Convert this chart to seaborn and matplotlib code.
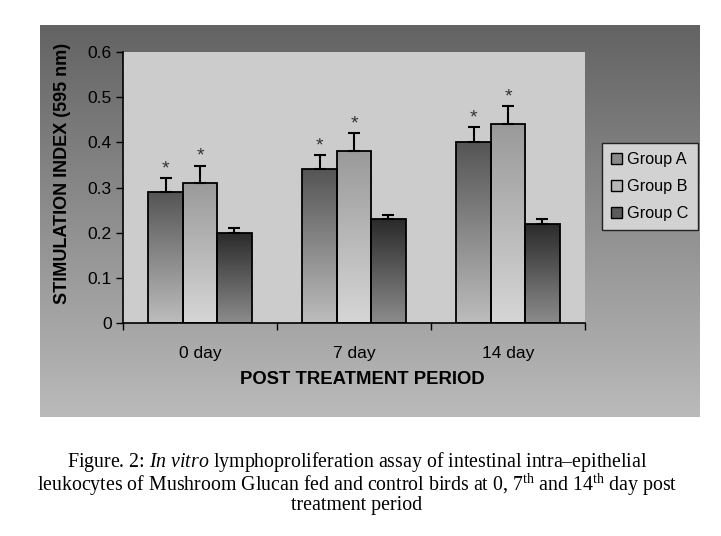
import numpy as np
import pandas as pd
import matplotlib
matplotlib.use("Agg")
import matplotlib.pyplot as plt
import seaborn as sns
from matplotlib.colors import LinearSegmentedColormap
from matplotlib.patches import Patch

# ---- data ----
days = ["0 day", "7 day", "14 day"]
groups = ["Group A", "Group B", "Group C"]
group_a = [0.29, 0.34, 0.40]
group_b = [0.31, 0.38, 0.44]
group_c = [0.20, 0.23, 0.22]
err_a = [0.030, 0.032, 0.033]
err_b = [0.038, 0.040, 0.040]
err_c = [0.010, 0.009, 0.010]
signif = {"Group A": True, "Group B": True, "Group C": False}
y_ticks = [0, 0.1, 0.2, 0.3, 0.4, 0.5, 0.6]
y_tick_labels = ["0", "0.1", "0.2", "0.3", "0.4", "0.5", "0.6"]

df = pd.DataFrame({
    "day": days * 3,
    "group": [g for g in groups for _ in days],
    "value": group_a + group_b + group_c,
    "err": err_a + err_b + err_c,
})

sns.set_theme(style="white")
plt.rcParams["font.family"] = ["Liberation Sans", "DejaVu Sans"]
plt.rcParams["text.color"] = "black"
plt.rcParams["axes.labelcolor"] = "black"
plt.rcParams["xtick.color"] = "black"
plt.rcParams["ytick.color"] = "black"
plt.rcParams["mathtext.fontset"] = "custom"
plt.rcParams["mathtext.rm"] = "Liberation Serif"
plt.rcParams["mathtext.it"] = "Liberation Serif:italic"

W, H = 721, 536
fig = plt.figure(figsize=(W / 100, H / 100), dpi=100)
fig.patch.set_facecolor("white")

def fx(px):
    return px / W

def fy(py):
    return 1 - py / H

# outer grey panel with vertical gradient
panel_l, panel_r, panel_t, panel_b = 40, 700, 25, 417
bg = fig.add_axes([fx(panel_l), fy(panel_b), fx(panel_r - panel_l), (panel_b - panel_t) / H], zorder=0)
grad = np.linspace(0, 1, 256).reshape(-1, 1)
panel_cmap = LinearSegmentedColormap.from_list("panel", ["#636363", "#bababa"])
bg.imshow(grad, aspect="auto", cmap=panel_cmap, extent=[0, 1, 0, 1], origin="upper")
bg.set_axis_off()

# main axes
ax_l, ax_r, ax_t, ax_b = 123, 585, 52, 323
ax = fig.add_axes([fx(ax_l), fy(ax_b), fx(ax_r - ax_l), (ax_b - ax_t) / H], zorder=1)
ax.set_facecolor("#cccccc")

sns.barplot(data=df, x="day", y="value", hue="group", order=days, hue_order=groups,
            errorbar=None, width=0.67, gap=0, ax=ax, legend=False,
            edgecolor="black", linewidth=1.3)

grad_colors = {
    "Group A": ("#555555", "#bdbdbd"),
    "Group B": ("#9a9a9a", "#d6d6d6"),
    "Group C": ("#2a2a2a", "#8c8c8c"),
}

bars = [p for p in ax.patches if p.get_height() > 0]
idx = 0
for g in groups:
    cmap = LinearSegmentedColormap.from_list(g, list(grad_colors[g]))
    for d in days:
        p = bars[idx]
        idx += 1
        row = df[(df.group == g) & (df.day == d)].iloc[0]
        x0 = p.get_x()
        w = p.get_width()
        h = p.get_height()
        p.set_facecolor("none")
        p.set_zorder(3)
        im = ax.imshow(grad, aspect="auto", cmap=cmap, extent=[x0, x0 + w, 0, h],
                       origin="upper", zorder=2)
        im.set_clip_path(p)
        xc = x0 + w / 2
        ax.errorbar(xc, h, yerr=[[0], [row.err]], fmt="none", ecolor="black",
                    elinewidth=1.5, capsize=4, capthick=1.5, zorder=4)
        if signif[g]:
            ax.text(xc, h + row.err + 0.002, "*", ha="center", va="bottom",
                    fontsize=14, color="#333333", zorder=5)

ax.set_xlim(-0.5, 2.5)
ax.set_ylim(0, 0.6)
ax.set_yticks(y_ticks)
ax.set_yticklabels(y_tick_labels, fontsize=12.5)
ax.set_xticks(range(len(days)))
ax.set_xticklabels(days, fontsize=12.5)
ax.set_xticks([-0.5, 0.5, 1.5, 2.5], minor=True)
ax.tick_params(axis="x", which="major", length=0, pad=16.5)
ax.tick_params(axis="x", which="minor", length=5, width=1, color="black", direction="out", bottom=True)
ax.tick_params(axis="y", which="major", length=5, width=1, color="black", direction="out", left=True, pad=3)

for s in ["top", "right"]:
    ax.spines[s].set_visible(False)
for s in ["left", "bottom"]:
    ax.spines[s].set_color("black")
    ax.spines[s].set_linewidth(1.2)

ax.set_xlabel("POST TREATMENT PERIOD", fontsize=13.3, fontweight="bold")
ax.set_ylabel("STIMULATION INDEX (595 nm)", fontsize=13, fontweight="bold")
ax.xaxis.set_label_coords((362 - ax_l) / (ax_r - ax_l), -(371 - ax_b) / (ax_b - ax_t))
ax.yaxis.set_label_coords(-(ax_l - 71) / (ax_r - ax_l), (ax_b - 173) / (ax_b - ax_t))

# legend
handles = [Patch(facecolor=((int(grad_colors[g][0][1:3], 16) + int(grad_colors[g][1][1:3], 16)) / 510,) * 3,
                 edgecolor="black", linewidth=1.0) for g in groups]
leg = fig.legend(handles, groups, loc="upper left", bbox_to_anchor=(fx(602), fy(143)),
                 bbox_transform=fig.transFigure, borderaxespad=0, frameon=True, fancybox=False,
                 framealpha=1, facecolor="#d2d2d2", edgecolor="#222222",
                 handlelength=0.7, handleheight=0.7, handletextpad=0.3, labelspacing=0.75,
                 fontsize=11.7, borderpad=0.55)
leg.get_frame().set_linewidth(1.0)
leg.set_zorder(10)

caption = ("Figure. 2: $\\mathit{In\\ vitro}$ lymphoproliferation assay of intestinal intra\u2013epithelial\n"
           "leukocytes of Mushroom Glucan fed and control birds at 0, 7$^{\\mathrm{th}}$ and 14$^{\\mathrm{th}}$ day post\n"
           "treatment period")
fig.text(fx(357), fy(450), caption, ha="center", va="top", multialignment="center",
         fontsize=14.3, family=["Liberation Serif", "DejaVu Serif"], linespacing=0.88)

fig.savefig("out.png", dpi=100)
